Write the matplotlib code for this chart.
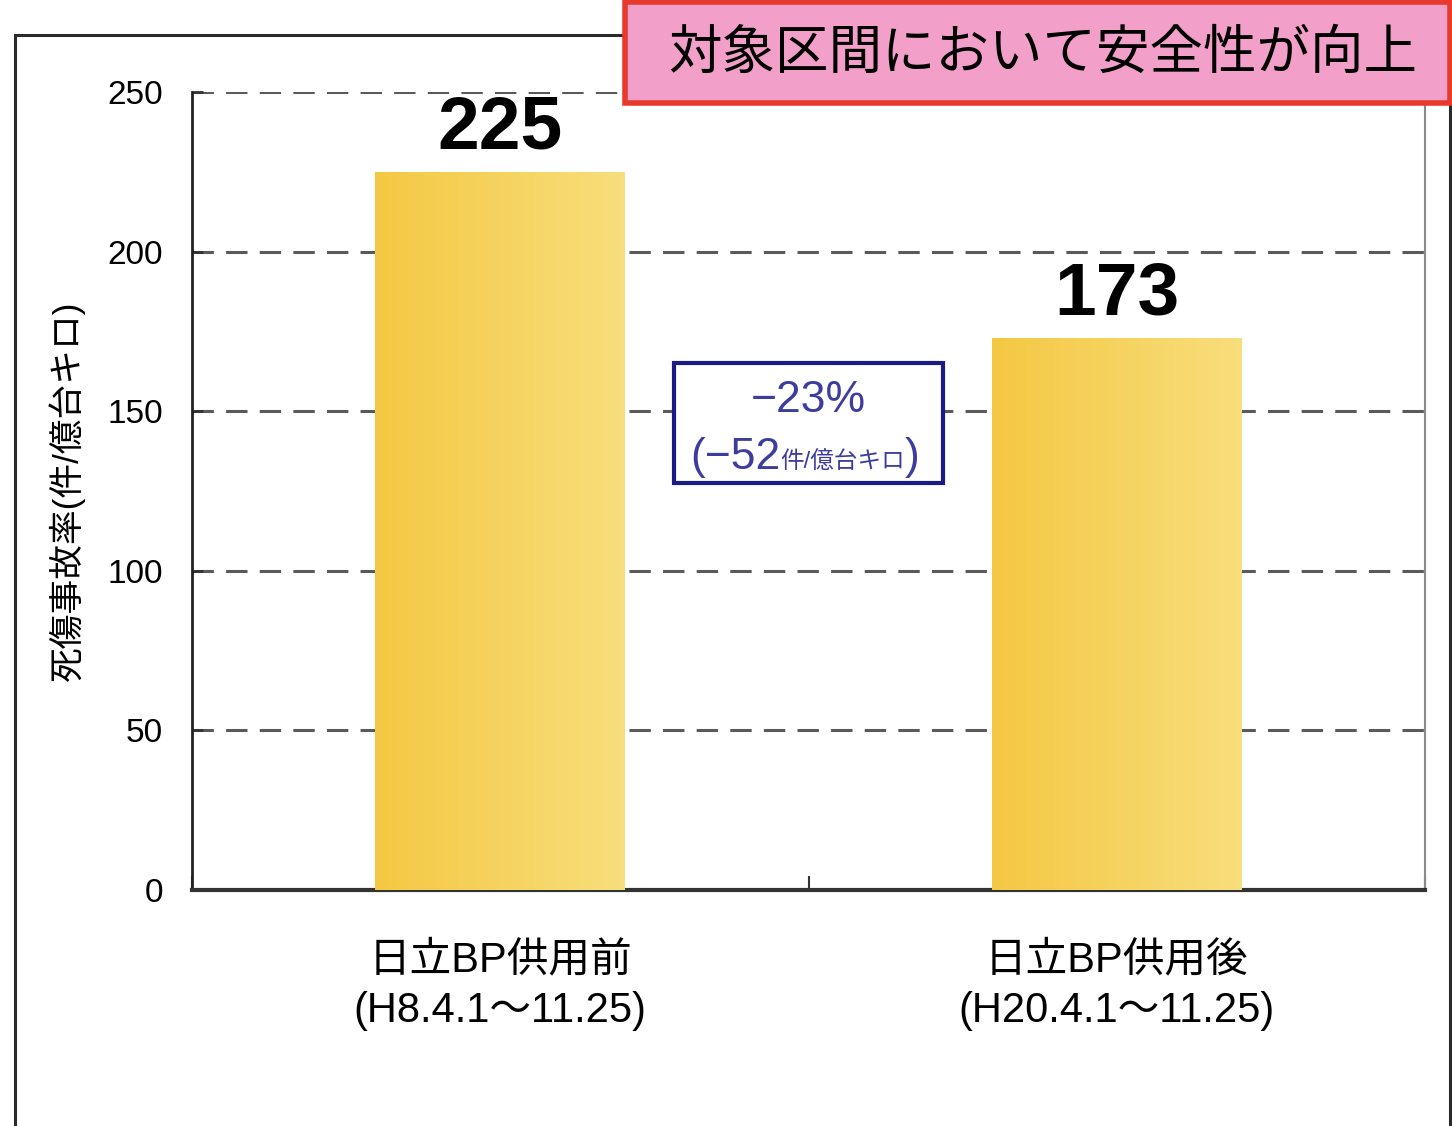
import numpy as np
import matplotlib.pyplot as plt
from matplotlib.patches import Rectangle
from matplotlib.ticker import FixedLocator
from matplotlib.colors import LinearSegmentedColormap

plt.rcParams['font.family'] = ['Liberation Sans', 'Noto Sans CJK JP']

categories = ['日立BP供用前\n(H8.4.1～11.25)', '日立BP供用後\n(H20.4.1～11.25)']
values = [225, 173]
yticks = [0, 50, 100, 150, 200, 250]
ylabel = '死傷事故率(件/億台キロ)'
title = '対象区間において安全性が向上'
change_pct = '−23%'
change_abs = '(−52'
change_unit = '件/億台キロ'

fig = plt.figure(figsize=(14.52, 11.26), dpi=100)
ax = fig.add_axes([192 / 1452, 1 - 890 / 1126, 1233 / 1452, 798 / 1126])

# outer frame of the slide panel
fig.add_artist(Rectangle((15 / 1452, -0.05), 1435 / 1452, 1.05 - 35 / 1126,
                         transform=fig.transFigure, fill=False,
                         edgecolor='#2a2a2a', linewidth=2.2))

x = np.arange(len(values))
bar_w = 0.405
bars = ax.bar(x, values, width=bar_w, color='#F6D25A', zorder=3)

# horizontal gradient inside each bar
grad = np.linspace(0, 1, 256).reshape(1, -1)
cmap = LinearSegmentedColormap.from_list('bar', ['#F4C843', '#F8DE7C'])
for b in bars:
    im = ax.imshow(grad, cmap=cmap, aspect='auto', zorder=4,
                   extent=[b.get_x(), b.get_x() + b.get_width(), 0, b.get_height()])
    im.set_clip_path(b)

for xi, v in zip(x, values):
    ax.annotate(str(v), (xi, v), xytext=(0, 6), textcoords='offset points',
                ha='center', va='bottom', fontsize=54, fontweight='bold', color='black')

ax.set_xlim(-0.5, 1.5)
ax.set_ylim(0, 250)
ax.set_yticks(yticks)
ax.set_yticklabels([str(t) for t in yticks], fontsize=24)
ax.set_xticks(x)
ax.set_xticklabels(categories, fontsize=30, linespacing=1.35)
ax.xaxis.set_minor_locator(FixedLocator([-0.5, 0.5, 1.5]))
ax.tick_params(axis='x', which='major', length=0, pad=36)
ax.tick_params(axis='x', which='minor', direction='in', length=10, width=1.5, color='#333333')
ax.tick_params(axis='y', direction='in', length=8, width=2, pad=21, color='#333333')
ax.set_ylabel(ylabel, fontsize=25, labelpad=16)

ax.grid(axis='y', color='#5a5a5a', linestyle=(0, (7, 4)), linewidth=2.2, zorder=1)
ax.set_axisbelow(True)
ax.spines['top'].set_visible(False)
ax.spines['left'].set_linewidth(2)
ax.spines['left'].set_color('#222222')
ax.spines['bottom'].set_linewidth(3)
ax.spines['bottom'].set_color('#333333')
ax.spines['right'].set_linewidth(1.5)
ax.spines['right'].set_color('#8a8a8a')

# change annotation box
ax.add_patch(Rectangle((0.5 - 0.2175, 127.5), 0.435, 37.6, facecolor='white',
                       edgecolor='#1b1b86', linewidth=3, zorder=5))
ax.text(0.5, 153.5, change_pct, ha='center', va='center', fontsize=32,
        color='#3d3d9e', zorder=6)
ax.text(0.4538, 132.0, change_abs, ha='right', va='baseline', fontsize=32,
        color='#3d3d9e', zorder=6)
ax.text(0.4538, 132.0, change_unit, ha='left', va='baseline', fontsize=17,
        color='#3d3d9e', zorder=6)
ax.text(0.6565, 132.0, ')', ha='left', va='baseline', fontsize=32,
        color='#3d3d9e', zorder=6)

# headline box
fig.add_artist(Rectangle((625 / 1452, 1 - 103 / 1126), 825 / 1452, 101 / 1126,
                         transform=fig.transFigure, facecolor='#F2A0C9',
                         edgecolor='#E83A2C', linewidth=4, zorder=10))
fig.text(668 / 1452, 1 - 55 / 1126, title, ha='left', va='center', fontsize=38.5,
         color='black', zorder=11)

fig.savefig('out.png', dpi=100)
